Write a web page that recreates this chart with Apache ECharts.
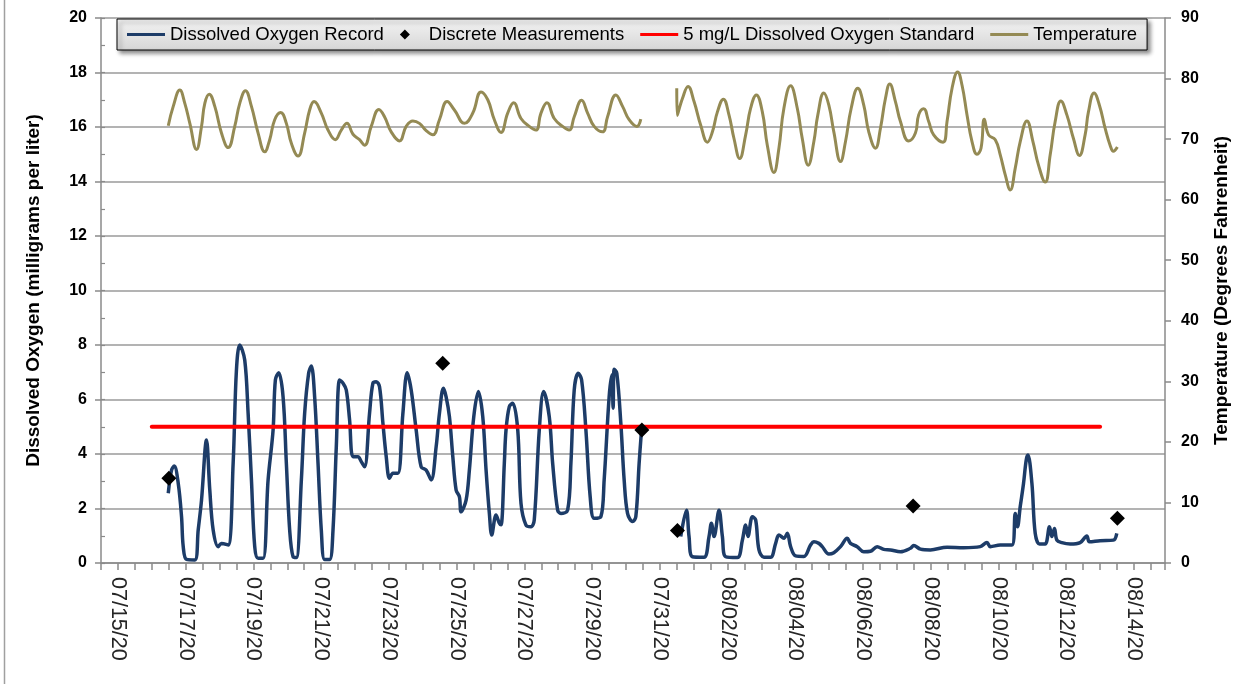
<!DOCTYPE html>
<html>
<head>
<meta charset="utf-8">
<script src="https://cdn.jsdelivr.net/npm/echarts@6/dist/echarts.min.js"></script>
<style>
  html, body { margin: 0; padding: 0; background: #fff; }
  #chart { width: 1249px; height: 684px; }
</style>
</head>
<body>
<div id="chart"></div>
<script>
// times are days since 07/15/20 00:00
const doTimeA = [1.486,1.583,1.663,1.781,1.878,1.928,2.025,2.270,2.370,2.468,
  2.615,2.712,2.812,2.960,3.057,3.255,3.402,3.499,3.597,3.744,
  3.844,3.942,4.039,4.139,4.287,4.434,4.581,4.649,4.746,4.876,
  4.973,5.071,5.171,5.268,5.416,5.513,5.631,5.710,5.808,5.908,
  6.005,6.103,6.250,6.350,6.448,6.545,6.645,6.742,6.840,6.940,
  7.087,7.185,7.282,7.429,7.529,7.627,7.724,7.824,7.922,8.019,
  8.119,8.267,8.414,8.541,8.659,8.806,8.953,9.101,9.248,9.396,
  9.493,9.611,9.690,9.788,9.888,9.985,10.083,10.133,10.280,10.377,
  10.507,10.643,10.772,10.870,10.967,11.038,11.164,11.262,11.312,11.409,
  11.459,11.556,11.656,11.804,11.901,12.048,12.196,12.293,12.441,12.570,
  12.736,12.836,12.983,13.081,13.278,13.375,13.473,13.591,13.691,13.818,
  13.944,14.062,14.260,14.357,14.504,14.584,14.622,14.652,14.731,14.849,
  14.947,15.047,15.194,15.292,15.389,15.460];
const doValA = [2.56,3.41,3.56,2.92,1.70,0.60,0.13,0.11,1.21,2.31,
  4.51,2.68,1.21,0.60,0.72,0.66,3.67,7.08,8.00,7.45,
  5.49,3.05,0.60,0.17,0.17,3.05,4.88,6.72,6.98,6.10,
  3.66,1.21,0.23,0.20,3.05,5.49,6.96,7.23,6.10,3.66,
  1.21,0.13,0.13,1.20,4.27,6.72,6.60,6.35,5.25,3.90,
  3.90,3.72,3.53,5.49,6.60,6.65,6.47,5.13,3.90,3.11,
  3.29,3.29,5.49,6.98,6.35,4.88,3.53,3.41,3.05,4.27,
  5.49,6.41,6.10,5.37,3.90,2.68,2.43,1.88,2.31,3.41,
  5.37,6.29,5.37,3.41,1.82,1.03,1.76,1.46,1.40,3.66,
  4.88,5.74,5.86,4.90,2.19,1.39,1.33,1.58,4.88,6.29,
  5.37,3.66,1.94,1.82,1.94,3.66,6.35,6.96,6.72,4.88,
  2.43,1.64,1.70,3.05,6.10,6.90,5.68,7.11,6.96,5.13,
  3.05,1.82,1.52,1.70,3.66,4.88];

const doTimeB = [16.618,16.786,16.863,16.963,17.305,17.453,17.524,17.601,17.748,17.848,
  17.945,18.290,18.438,18.535,18.603,18.733,18.830,18.928,19.075,19.272,
  19.420,19.517,19.665,19.764,19.862,20.009,20.254,20.451,20.549,20.696,
  20.796,20.991,21.138,21.336,21.533,21.630,21.828,22.022,22.220,22.417,
  22.612,22.810,23.105,23.400,23.497,23.695,23.989,24.481,24.971,25.462,
  25.660,25.757,26.052,26.397,26.495,26.562,26.642,26.739,26.819,26.869,
  26.987,27.084,27.211,27.379,27.506,27.576,27.653,27.724,27.871,28.116,
  28.411,28.608,28.685,29.000,29.393,29.493];
const doValB = [0.97,1.94,0.97,0.23,0.21,0.97,1.46,0.97,1.94,0.97,
  0.23,0.20,0.84,1.39,0.97,1.70,1.58,0.48,0.21,0.21,
  0.72,1.03,0.91,1.09,0.60,0.26,0.24,0.66,0.78,0.72,
  0.60,0.33,0.38,0.60,0.91,0.72,0.60,0.41,0.43,0.60,
  0.50,0.48,0.41,0.54,0.64,0.51,0.48,0.58,0.56,0.60,
  0.75,0.60,0.66,0.66,1.82,1.33,2.07,2.92,3.78,3.96,
  2.92,1.09,0.70,0.70,1.33,0.97,1.27,0.84,0.75,0.70,
  0.75,0.99,0.78,0.82,0.84,1.09];

const discreteTime = [1.504, 9.59, 15.47, 16.52, 23.48, 29.51];
const discreteVal = [3.11, 7.33, 4.88, 1.19, 2.09, 1.64];

const stdTime = [1, 29];
const stdVal = [5, 5];

const tempTimeA = [1.486,1.633,1.828,1.975,2.123,2.320,2.468,2.565,2.695,2.860,
  3.057,3.255,3.449,3.597,3.765,3.942,4.139,4.334,4.481,4.629,
  4.805,4.973,5.121,5.318,5.513,5.660,5.790,6.005,6.203,6.418,
  6.595,6.763,6.940,7.134,7.282,7.479,7.706,7.871,8.069,8.314,
  8.511,8.709,8.903,9.101,9.298,9.493,9.720,9.935,10.230,10.478,
  10.722,10.920,11.114,11.312,11.509,11.686,11.901,12.146,12.344,12.491,
  12.668,12.883,13.131,13.325,13.473,13.691,13.868,14.062,14.310,14.457,
  14.702,14.900,15.094,15.321,15.439];
const tempValA = [72.2,75.4,78.1,75.9,72.6,68.3,72.1,75.9,77.4,75.4,
  71.0,68.6,72.1,75.9,78.0,75.4,71.0,67.9,69.9,73.2,
  74.4,72.6,69.3,67.2,71.0,74.8,76.2,74.3,71.5,69.9,
  71.5,72.6,70.8,69.9,69.0,72.1,74.9,73.7,71.2,69.7,
  72.1,73.0,72.6,71.4,70.7,73.2,76.2,74.8,72.6,74.3,
  77.8,76.5,73.2,71.1,74.3,76.0,73.4,72.1,71.5,74.3,
  76.0,73.4,72.1,71.5,73.7,76.4,74.3,72.1,71.2,73.7,
  77.3,75.4,73.2,72.1,73.3];

const tempTimeB = [16.500,16.515,16.668,16.834,17.011,17.208,17.406,17.553,17.701,17.877,
  18.042,18.190,18.358,18.535,18.682,18.850,19.027,19.174,19.369,19.517,
  19.664,19.862,20.059,20.206,20.383,20.549,20.666,20.843,20.991,21.138,
  21.336,21.483,21.651,21.846,22.022,22.170,22.367,22.515,22.662,22.789,
  22.957,23.105,23.349,23.547,23.644,23.791,23.939,24.086,24.363,24.481,
  24.629,24.794,24.924,25.071,25.218,25.366,25.484,25.581,25.708,25.905,
  26.052,26.200,26.347,26.495,26.642,26.840,27.017,27.182,27.379,27.527,
  27.674,27.842,28.019,28.213,28.390,28.558,28.656,28.823,28.980,29.148,
  29.295,29.393,29.510];
const tempValB = [78.4,73.9,76.7,78.7,76.2,72.3,69.5,71.2,74.5,76.6,
  74.0,70.1,66.8,70.7,75.1,77.3,74.5,69.0,64.5,68.5,
  75.1,78.8,75.1,70.1,65.7,69.6,74.0,77.6,75.6,71.2,
  66.3,69.6,75.1,78.4,75.6,71.2,68.5,71.8,76.7,79.1,
  76.2,72.9,69.7,71.0,74.0,75.0,72.9,70.7,69.5,72.9,
  78.4,81.1,78.9,74.0,69.6,67.5,68.5,73.3,70.7,69.9,
  67.4,64.1,61.6,65.2,69.6,73.0,69.6,65.7,62.9,67.4,
  72.9,76.3,74.0,70.1,67.3,70.7,74.5,77.6,75.6,71.8,
  69.0,68.0,68.7];

const dateLabels = ['07/15/20','07/17/20','07/19/20','07/21/20','07/23/20','07/25/20',
  '07/27/20','07/29/20','07/31/20','08/02/20','08/04/20','08/06/20','08/08/20',
  '08/10/20','08/12/20','08/14/20'];

const DAY = 86400000;
const base = Date.UTC(2020, 6, 15);
const toTs = d => base + d * DAY;

function pairs(times, vals) {
  return times.map((t, i) => [toTs(t), vals[i]]);
}
function withBreak(tA, vA, tB, vB) {
  const gap = (tA[tA.length - 1] + tB[0]) / 2;
  return pairs(tA, vA).concat([[toTs(gap), null]], pairs(tB, vB));
}

function fmtDate(v) {
  const dt = new Date(v);
  if (dt.getUTCHours() !== 0 || dt.getUTCMinutes() !== 0) return '';
  const mm = String(dt.getUTCMonth() + 1).padStart(2, '0');
  const dd = String(dt.getUTCDate()).padStart(2, '0');
  const s = mm + '/' + dd + '/20';
  return dateLabels.indexOf(s) >= 0 ? s : '';
}

const NAVY = '#1d3c68';
const OLIVE = '#948a54';
const GRID_GRAY = '#9a9a9a';
const AXIS_GRAY = '#8a8a8a';
// legend icons: flat bar for lines, small diamond for points
const LINE_ICON = 'path://M0,0 L38,0 L38,3.2 L0,3.2 Z';
const DIAMOND_ICON = 'path://M5,0 L10,5 L5,10 L0,5 Z';

let myChart = echarts.init(document.getElementById('chart'));
let option = {
  animation: false,
  backgroundColor: '#fff',
  textStyle: { fontFamily: 'Liberation Sans' },
  graphic: [{
    type: 'line',
    shape: { x1: 4.5, y1: 0, x2: 4.5, y2: 684 },
    style: { stroke: '#a0a0a0', lineWidth: 1.5 }
  }],
  grid: { left: 101, right: 84, top: 18, bottom: 121 },
  legend: {
    left: 117,
    top: 19,
    padding: [6, 10, 6, 10],
    itemWidth: 38,
    itemHeight: 10,
    itemGap: 16,
    borderColor: '#000',
    borderWidth: 1,
    backgroundColor: {
      type: 'linear', x: 0, y: 0, x2: 0, y2: 1,
      colorStops: [{ offset: 0, color: '#f4f4f4' }, { offset: 1, color: '#d6d6d6' }]
    },
    shadowBlur: 4,
    shadowColor: 'rgba(0,0,0,0.45)',
    shadowOffsetX: 3,
    shadowOffsetY: 3,
    textStyle: { fontSize: 18.5, color: '#000', fontFamily: 'Liberation Sans' },
    data: [
      { name: 'Dissolved Oxygen Record', icon: LINE_ICON },
      { name: 'Discrete Measurements', icon: DIAMOND_ICON },
      { name: '5 mg/L Dissolved Oxygen Standard', icon: LINE_ICON },
      { name: 'Temperature', icon: LINE_ICON }
    ]
  },
  xAxis: {
    type: 'value',
    min: Date.UTC(2020, 6, 14, 12),
    max: Date.UTC(2020, 7, 14, 22),
    interval: DAY / 2,
    axisLine: { lineStyle: { color: AXIS_GRAY, width: 1.5 } },
    axisTick: { show: true, length: 7, lineStyle: { color: AXIS_GRAY, width: 1.5 } },
    splitLine: { show: false },
    axisLabel: {
      rotate: -90,
      margin: 14,
      fontSize: 21.5,
      color: '#262626',
      fontFamily: 'Liberation Sans',
      showMinLabel: true,
      showMaxLabel: true,
      formatter: fmtDate
    }
  },
  yAxis: [
    {
      type: 'value',
      position: 'left',
      min: 0, max: 20, interval: 2,
      name: 'Dissolved Oxygen (milligrams per liter)',
      nameLocation: 'middle',
      nameGap: 58,
      nameTextStyle: { fontSize: 19, fontWeight: 'bold', color: '#000', fontFamily: 'Liberation Sans' },
      axisLine: { show: true, lineStyle: { color: AXIS_GRAY, width: 1.5 } },
      axisTick: { show: true, length: 6, lineStyle: { color: AXIS_GRAY, width: 1.5 } },
      splitLine: { show: true, lineStyle: { color: GRID_GRAY, width: 1.5 } },
      axisLabel: { fontSize: 16, fontWeight: 'bold', color: '#000', margin: 14 }
    },
    {
      type: 'value',
      position: 'right',
      min: 0, max: 90, interval: 10,
      name: 'Temperature (Degrees Fahrenheit)',
      nameLocation: 'middle',
      nameGap: 47,
      nameRotate: 90,
      nameTextStyle: { fontSize: 19, fontWeight: 'bold', color: '#000', fontFamily: 'Liberation Sans' },
      axisLine: { show: true, lineStyle: { color: AXIS_GRAY, width: 1.5 } },
      axisTick: { show: true, length: 6, lineStyle: { color: AXIS_GRAY, width: 1.5 } },
      splitLine: { show: false },
      axisLabel: { fontSize: 16, fontWeight: 'bold', color: '#000', margin: 16 }
    },
    {
      // inner minor ticks on the left axis
      type: 'value',
      position: 'left',
      min: 0, max: 20, interval: 1,
      axisLine: { show: false },
      axisTick: { show: true, inside: true, length: 4, lineStyle: { color: AXIS_GRAY, width: 1.2 } },
      splitLine: { show: false },
      axisLabel: { show: false }
    }
  ],
  series: [
    {
      name: 'Dissolved Oxygen Record',
      type: 'line',
      yAxisIndex: 0,
      symbol: 'none',
      smooth: 0.35,
      connectNulls: false,
      lineStyle: { color: NAVY, width: 3.5 },
      itemStyle: { color: NAVY },
      z: 2,
      data: withBreak(doTimeA, doValA, doTimeB, doValB)
    },
    {
      name: 'Temperature',
      type: 'line',
      yAxisIndex: 1,
      symbol: 'none',
      smooth: 0.45,
      connectNulls: false,
      lineStyle: { color: OLIVE, width: 3 },
      itemStyle: { color: OLIVE },
      z: 2,
      data: withBreak(tempTimeA, tempValA, tempTimeB, tempValB)
    },
    {
      name: '5 mg/L Dissolved Oxygen Standard',
      type: 'line',
      yAxisIndex: 0,
      symbol: 'none',
      lineStyle: { color: '#ff0000', width: 4, cap: 'round' },
      itemStyle: { color: '#ff0000' },
      z: 3,
      data: pairs(stdTime, stdVal)
    },
    {
      name: 'Discrete Measurements',
      type: 'scatter',
      yAxisIndex: 0,
      symbol: 'diamond',
      symbolSize: 15,
      itemStyle: { color: '#000', opacity: 1 },
      z: 4,
      data: pairs(discreteTime, discreteVal)
    }
  ]
};
myChart.setOption(option);
</script>
</body>
</html>
